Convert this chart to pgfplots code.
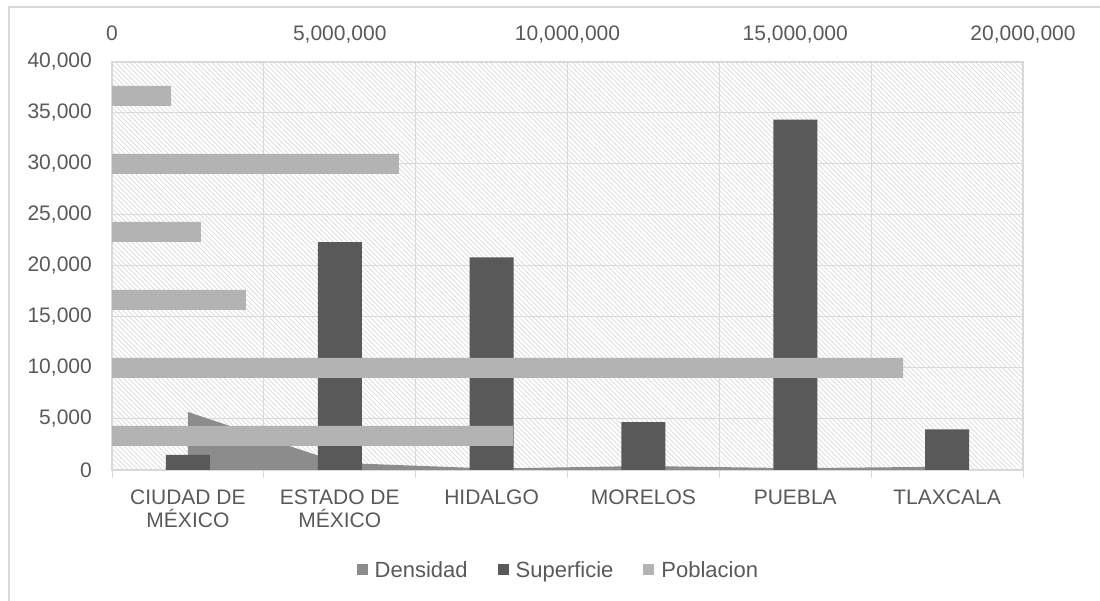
\documentclass[border=0pt]{standalone}
\usepackage{fontspec}
\setmainfont{Liberation Sans}
\usepackage{pgfplots}
\pgfplotsset{compat=1.18}
\usetikzlibrary{patterns.meta}

\definecolor{txt}{HTML}{595959}
\definecolor{dens}{HTML}{8C8C8C}
\definecolor{sup}{HTML}{595959}
\definecolor{pob}{HTML}{B3B3B3}
\definecolor{grd}{HTML}{D9D9D9}
\definecolor{hatch}{HTML}{D8D8D8}

\pgfplotsset{
  common/.style={
    at={(112pt,131pt)}, anchor=south west,
    scale only axis, width=911pt, height=408pt,
    /pgf/number format/fixed,
    /pgf/number format/precision=0,
    /pgf/number format/1000 sep={,},
    /pgf/number format/assume math mode=true,
    every tick label/.append style={font=\fontsize{21}{23}\selectfont, text=txt},
  },
}

\begin{document}
\begin{tikzpicture}
\path[use as bounding box] (0,0) rectangle (1100pt,601pt);

% primary axis: Superficie (bars) and Densidad (area)
\begin{axis}[
  common,
  xmin=-0.5, xmax=5.5, ymin=0, ymax=40000,
  xtick={0,...,5},
  xticklabels={{CIUDAD DE\\MÉXICO},{ESTADO DE\\MÉXICO},HIDALGO,MORELOS,PUEBLA,TLAXCALA},
  xticklabel style={align=center, anchor=north, inner sep=0pt, yshift=-20pt},
  minor xtick={-0.5,0.5,...,5.5},
  ytick={0,5000,...,40000},
  yticklabel style={anchor=east, inner sep=0pt, xshift=-20pt},
  scaled y ticks=false,
  xtick pos=bottom, ytick pos=left,
  major tick length=0pt, minor tick length=8pt, tick align=outside,
  minor tick style={grd, line width=1pt},
  xminorgrids, ymajorgrids,
  grid style={grd, line width=1pt},
  minor grid style={grd, line width=1pt},
  axis line style={grd, line width=1.2pt},
  axis background/.style={pattern={Lines[angle=-45,distance=3.4pt,line width=0.7pt]}, pattern color=hatch},
  legend image code/.code={\fill[#1, draw=none] (0pt,-5.5pt) rectangle (11pt,5.5pt); \path[draw=none, fill=none] (0pt,0pt) -- (16pt,0pt);},
  legend style={at={(0.49,-0.245)}, anchor=center, draw=none, fill=none,
    font=\fontsize{22}{24}\selectfont, text=txt,
    /tikz/every even column/.append style={column sep=28pt}},
  legend columns=3,
]
\addplot[fill=dens, draw=none, forget plot] coordinates {(0,5690) (1,700) (2,140) (3,390) (4,180) (5,320)} \closedcycle;
\addplot[ybar, bar width=44pt, fill=sup, draw=none, forget plot] coordinates {(0,1480) (1,22350) (2,20850) (3,4700) (4,34350) (5,3980)};
\addlegendimage{fill=dens}
\addlegendentry{Densidad}
\addlegendimage{fill=sup}
\addlegendentry{Superficie}
\addlegendimage{fill=pob}
\addlegendentry{Poblacion}
\end{axis}

% secondary axis: Poblacion (horizontal bars, top scale)
\begin{axis}[
  common,
  xmin=0, xmax=20000000, ymin=-0.5, ymax=5.5,
  axis x line*=top, axis y line=none,
  axis line style={draw=none},
  xtick={0,5000000,10000000,15000000,20000000},
  scaled x ticks=false,
  major tick length=0pt,
  xticklabel style={anchor=base, inner sep=0pt, yshift=21pt},
]
\addplot[xbar, bar width=20pt, fill=pob, draw=none] coordinates {(8800000,0) (17370000,1) (2940000,2) (1950000,3) (6300000,4) (1300000,5)};
\end{axis}

\draw[grd, line width=1.5pt] (9pt,-5pt) -- (9pt,594pt) -- (1105pt,594pt);
\end{tikzpicture}
\end{document}
